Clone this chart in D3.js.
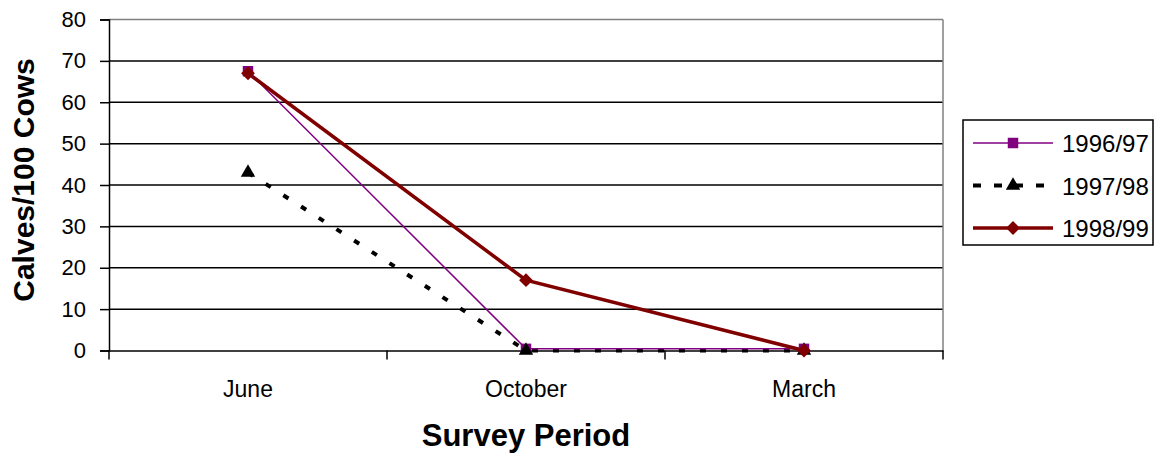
<!DOCTYPE html>
<html><head><meta charset="utf-8">
<script src="https://cdn.jsdelivr.net/npm/d3@7"></script>
<style>body{margin:0;background:#fff}svg{display:block}text{font-family:"Liberation Sans",Arial,sans-serif}</style>
</head><body>
<svg id="c" width="1160" height="461"></svg>
<script>
const categories = ["June", "October", "March"];
const seriesNames = ["1996/97", "1997/98", "1998/99"];
const s1996 = [67.5, 0.4, 0.4];
const s1997 = [43, 0, 0];
const s1998 = [67, 17, 0];
const yTicks = [0, 10, 20, 30, 40, 50, 60, 70, 80];

const svg = d3.select("#c");
const L = 109, R = 943, T = 19.5, B = 350.5;
const x = d3.scaleBand().domain(categories).range([L, R]);
const y = d3.scaleLinear().domain([0, 80]).range([B, T]);

// gridlines
svg.append("g").selectAll("line").data(yTicks.filter(d => d > 0 && d < 80)).join("line")
  .attr("x1", L).attr("x2", R).attr("y1", d => y(d)).attr("y2", d => y(d))
  .attr("stroke", "#000").attr("stroke-width", 1.5);
// top & right border (gray)
svg.append("line").attr("x1", L).attr("x2", R).attr("y1", y(80)).attr("y2", y(80)).attr("stroke", "#808080").attr("stroke-width", 1.5);
svg.append("line").attr("x1", R).attr("x2", R).attr("y1", y(80)).attr("y2", B).attr("stroke", "#808080").attr("stroke-width", 1.5);

// y axis
const ya = svg.append("g").attr("transform", `translate(${L},0)`)
  .call(d3.axisLeft(y).tickValues(yTicks).tickSize(9).tickPadding(14));
ya.attr("font-size", 22).attr("font-family", "Liberation Sans, Arial");
ya.select(".domain").attr("stroke", "#000").attr("stroke-width", 1.5);
ya.selectAll(".tick line").attr("stroke", "#000").attr("stroke-width", 1.5);
ya.selectAll("text").attr("fill", "#000");

// x axis
const xa = svg.append("g").attr("transform", `translate(0,${B})`)
  .call(d3.axisBottom(x).tickSize(0).tickPadding(30));
xa.attr("font-size", 23).attr("font-family", "Liberation Sans, Arial");
xa.select(".domain").attr("stroke", "#000").attr("stroke-width", 1.5);
xa.selectAll("text").attr("fill", "#000");
// category boundary ticks
const bounds = categories.map(c => x(c)).concat([R]);
svg.append("g").selectAll("line").data(bounds).join("line")
  .attr("x1", d => d).attr("x2", d => d).attr("y1", B).attr("y2", B + 9)
  .attr("stroke", "#000").attr("stroke-width", 1.5);

const cx = c => x(c) + x.bandwidth() / 2;
const line = d3.line().x(d => cx(d.c)).y(d => y(d.v));
const mk = arr => arr.map((v, i) => ({c: categories[i], v}));

// 1997/98 dashed black
svg.append("path").datum(mk(s1997)).attr("d", line).attr("fill", "none")
  .attr("stroke", "#000").attr("stroke-width", 4).attr("stroke-dasharray", "6,15");
// 1996/97 purple thin
svg.append("path").datum(mk(s1996)).attr("d", line).attr("fill", "none")
  .attr("stroke", "#800080").attr("stroke-width", 1.5);
// 1998/99 dark red thick
svg.append("path").datum(mk(s1998)).attr("d", line).attr("fill", "none")
  .attr("stroke", "#800000").attr("stroke-width", 3.5);

const sq = d3.symbol().type(d3.symbolSquare).size(110);
const tri = d3.symbol().type(d3.symbolTriangle).size(90);
const dia = d3.symbol().type(d3.symbolSquare).size(95);

svg.append("g").selectAll("path").data(mk(s1996)).join("path")
  .attr("transform", d => `translate(${cx(d.c)},${y(d.v)})`).attr("d", sq).attr("fill", "#800080");
svg.append("g").selectAll("path").data(mk(s1997)).join("path")
  .attr("transform", d => `translate(${cx(d.c)},${y(d.v)})`).attr("d", tri).attr("fill", "#000");
svg.append("g").selectAll("path").data(mk(s1998)).join("path")
  .attr("transform", d => `translate(${cx(d.c)},${y(d.v)}) rotate(45)`).attr("d", dia).attr("fill", "#800000");

// axis titles
svg.append("text").attr("x", (L + R) / 2).attr("y", 446).attr("text-anchor", "middle")
  .attr("font-size", 31).attr("font-weight", "bold").text("Survey Period");
svg.append("text").attr("transform", `translate(34,${180}) rotate(-90)`).attr("text-anchor", "middle")
  .attr("font-size", 30).attr("font-weight", "bold").text("Calves/100 Cows");

// legend
const lg = svg.append("g");
lg.append("rect").attr("x", 963).attr("y", 120).attr("width", 190).attr("height", 125)
  .attr("fill", "#fff").attr("stroke", "#000").attr("stroke-width", 1.5);
const styles = [
  {stroke: "#800080", w: 1.5, dash: null, sym: sq, fill: "#800080", rot: 0},
  {stroke: "#000", w: 4, dash: "8,13", sym: tri, fill: "#000", rot: 0},
  {stroke: "#800000", w: 3.5, dash: null, sym: dia, fill: "#800000", rot: 45}
];
const ly = [143, 185.5, 228];
seriesNames.forEach((n, i) => {
  const s = styles[i];
  lg.append("line").attr("x1", 973).attr("x2", 1053).attr("y1", ly[i]).attr("y2", ly[i])
    .attr("stroke", s.stroke).attr("stroke-width", s.w).attr("stroke-dasharray", s.dash);
  lg.append("path").attr("transform", `translate(1013,${ly[i]}) rotate(${s.rot})`).attr("d", s.sym).attr("fill", s.fill);
  lg.append("text").attr("x", 1062).attr("y", ly[i] + 9).attr("font-size", 24).text(n);
});
</script>
</body></html>
